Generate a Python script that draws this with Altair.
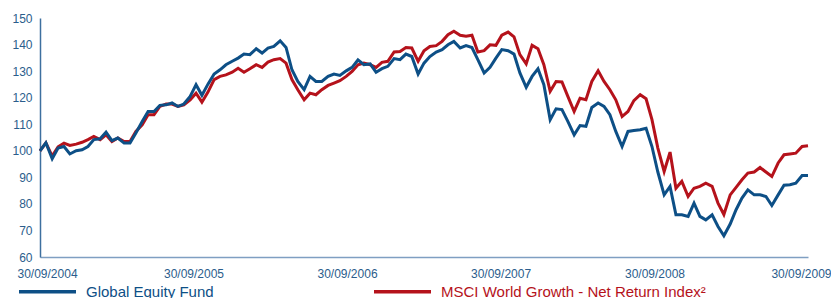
import altair as alt
import pandas as pd

series_names = ["Global Equity Fund", "MSCI World Growth - Net Return Index²"]
series_colors = ["#0d4f86", "#b5121b"]

fund = [100.0, 103.0, 97.0, 101.0, 101.6, 98.8, 100.0, 100.4, 101.6, 104.2,
        104.5, 107.0, 103.8, 104.8, 102.9, 102.9, 106.7, 111.0, 114.8, 114.8,
        117.1, 117.3, 118.0, 116.7, 117.6, 120.5, 124.9, 120.9, 125.0, 128.9,
        130.5, 132.4, 133.7, 134.9, 136.4, 136.2, 138.4, 136.8, 138.7, 139.3,
        141.4, 138.9, 130.5, 126.1, 123.0, 128.0, 126.1, 126.1, 128.0, 128.9,
        128.4, 130.1, 131.4, 134.2, 132.4, 132.7, 129.6, 130.9, 131.8, 134.7,
        134.3, 136.4, 135.5, 128.9, 133.0, 135.5, 137.2, 138.1, 139.9, 141.2,
        138.7, 139.6, 138.9, 134.3, 129.3, 131.4, 134.9, 138.1, 137.7, 136.4,
        129.3, 123.9, 128.0, 130.9, 124.9, 111.7, 115.8, 115.5, 111.1, 106.0,
        109.5, 109.2, 116.3, 118.0, 116.7, 113.6, 107.3, 101.6, 107.3, 107.6,
        107.9, 108.5, 101.6, 92.0, 83.4, 86.6, 75.9, 75.9, 75.3, 80.3,
        75.3, 74.0, 75.9, 71.5, 68.0, 72.4, 77.8, 82.2, 85.3, 83.4,
        83.4, 82.8, 79.4, 83.4, 87.0, 87.2, 87.8, 90.7, 90.7]

index = [100.0, 103.0, 98.0, 101.5, 102.9, 102.0, 102.5, 103.2, 104.2, 105.4,
         104.2, 106.0, 103.5, 104.8, 103.5, 103.5, 107.3, 109.8, 113.6, 113.6,
         116.7, 117.6, 117.6, 116.7, 117.3, 119.2, 121.7, 118.3, 122.0, 126.8,
         128.0, 128.6, 129.6, 131.1, 129.6, 130.9, 132.4, 131.4, 133.4, 134.3,
         134.7, 133.0, 126.8, 123.0, 119.2, 121.7, 121.1, 123.0, 124.6, 125.5,
         126.4, 128.0, 129.9, 132.4, 133.0, 132.4, 131.4, 133.3, 133.7, 137.2,
         137.4, 138.9, 138.7, 133.7, 137.7, 139.3, 139.6, 141.2, 143.7, 145.0,
         143.5, 143.1, 143.5, 137.2, 137.7, 139.9, 139.7, 143.5, 144.7, 142.9,
         136.2, 132.7, 139.7, 138.4, 132.4, 122.4, 126.1, 125.9, 120.5, 114.8,
         119.8, 119.2, 126.1, 130.1, 126.1, 123.0, 119.2, 112.9, 114.8, 118.9,
         121.1, 119.6, 111.7, 101.0, 92.2, 99.5, 85.9, 88.5, 82.8, 85.9,
         86.6, 87.8, 86.6, 80.3, 76.0, 83.4, 86.2, 89.1, 91.6, 92.0,
         93.7, 92.0, 90.3, 95.4, 98.5, 98.8, 99.1, 101.6, 101.9]

x_tick_dates = [(2004, 9, 30), (2005, 9, 30), (2006, 9, 30),
                (2007, 9, 30), (2008, 9, 30), (2009, 9, 30)]
y_ticks = [60, 70, 80, 90, 100, 110, 120, 130, 140, 150]

n = len(fund)
dates = list(pd.date_range("2004-09-30", "2009-09-30", periods=n).round("D").strftime("%Y-%m-%d"))
df = pd.DataFrame({
    "date": dates * 2,
    "value": fund + index,
    "series": [series_names[0]] * n + [series_names[1]] * n,
})

def dt(t):
    return alt.DateTime(year=t[0], month=t[1], date=t[2], utc=True)

label_color = "#2b5d8c"
font = "Liberation Sans"

x_enc = alt.X(
    "date:T",
    scale=alt.Scale(type="utc", domain=[dt(x_tick_dates[0]), dt(x_tick_dates[-1])]),
    axis=alt.Axis(
        values=[dt(t) for t in x_tick_dates],
        labelExpr="utcFormat(datum.value, '%d/%m/%Y')",
        title=None, grid=False, ticks=False,
        domainColor="#7f9fc2", domainWidth=1.5,
        labelColor=label_color, labelFont=font, labelFontSize=12,
        labelPadding=11, labelOverlap=False,
        labelFlush=True, labelFlushOffset=23,
    ),
)
y_enc = alt.Y(
    "value:Q",
    scale=alt.Scale(domain=[60, 150], nice=False, zero=False),
    axis=alt.Axis(
        values=y_ticks, title=None, grid=False, ticks=False,
        domainColor="#3d6f9f", domainWidth=1.5,
        labelColor=label_color, labelFont=font, labelFontSize=12,
        labelPadding=8,
    ),
)
color_enc = alt.Color(
    "series:N",
    scale=alt.Scale(domain=series_names, range=series_colors),
    legend=alt.Legend(
        orient="none", legendX=-23, legendY=243, padding=0,
        direction="horizontal", columns=2, columnPadding=153,
        title=None, symbolType="stroke", symbolSize=3249,
        symbolStrokeWidth=3.5, labelFont=font, labelFontSize=15,
        labelOffset=8, labelLimit=400,
        labelColor=alt.ExprRef(
            f"datum.label == '{series_names[0]}' ? '{series_colors[0]}' : '{series_colors[1]}'"
        ),
    ),
)

base = alt.Chart(df).mark_line(strokeWidth=3).encode(x=x_enc, y=y_enc, color=color_enc)
red = base.transform_filter(alt.datum.series == series_names[1])
blue = base.transform_filter(alt.datum.series == series_names[0])

chart = alt.layer(red, blue).properties(
    width=768, height=239,
    padding={"left": 32, "top": 10, "right": 23, "bottom": 50},
    autosize="none",
    background="white",
).configure_view(stroke=None)

chart.save("out.html", embed_options={"renderer": "svg", "actions": False})
